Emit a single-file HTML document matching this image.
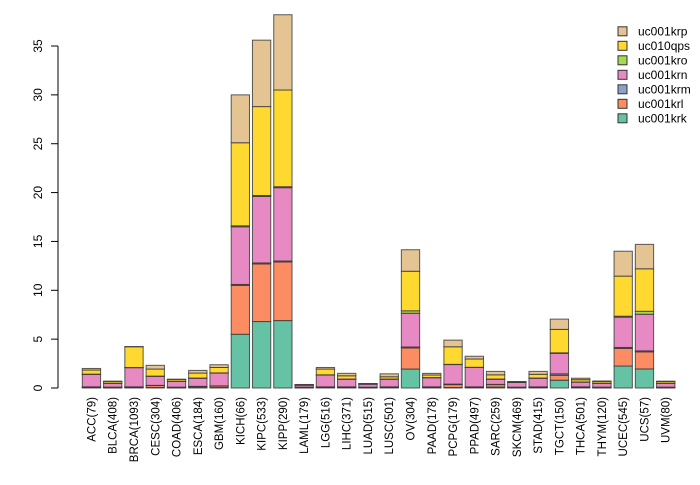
<!DOCTYPE html>
<html><head><meta charset="utf-8"><style>
body{margin:0;background:#fff}
svg{font-family:"Liberation Sans",sans-serif}
</style></head><body>
<svg id="c" width="700" height="480"></svg>
<script>
const categories=["ACC(79)","BLCA(408)","BRCA(1093)","CESC(304)","COAD(406)","ESCA(184)","GBM(160)","KICH(66)","KIPC(533)","KIPP(290)","LAML(179)","LGG(516)","LIHC(371)","LUAD(515)","LUSC(501)","OV(304)","PAAD(178)","PCPG(179)","PPAD(497)","SARC(259)","SKCM(469)","STAD(415)","TGCT(150)","THCA(501)","THYM(120)","UCEC(545)","UCS(57)","UVM(80)"];
const seriesNames=["uc001krk","uc001krl","uc001krm","uc001krn","uc001kro","uc010qps","uc001krp"];
const krk=[0.05,0.02,0.05,0.05,0.02,0.05,0.05,5.5,6.8,6.9,0.02,0.05,0.05,0.02,0.05,1.94,0.05,0.05,0.05,0.1,0.02,0.05,0.8,0.05,0.02,2.25,1.95,0.02];
const krl=[0.05,0.05,0.05,0.2,0.05,0.1,0.15,5.0,5.9,6.0,0.05,0.05,0.05,0.05,0.05,2.16,0.05,0.3,0.05,0.25,0.05,0.05,0.5,0.05,0.05,1.8,1.75,0.05];
const krm=[0.02,0.02,0.02,0.02,0.02,0.02,0.02,0.1,0.1,0.1,0.02,0.02,0.02,0.02,0.02,0.1,0.02,0.05,0.02,0.02,0.02,0.02,0.15,0.02,0.02,0.1,0.1,0.02];
const krn=[1.28,0.39,1.96,0.93,0.59,0.83,1.31,5.9,6.8,7.5,0.2,1.21,0.78,0.3,0.78,3.45,0.93,2.0,1.98,0.53,0.48,0.88,2.1,0.48,0.39,3.1,3.75,0.39];
const kro=[0.02,0.02,0.02,0.02,0.02,0.02,0.02,0.1,0.1,0.1,0.02,0.02,0.02,0.02,0.02,0.25,0.02,0.02,0.02,0.02,0.02,0.02,0.05,0.02,0.02,0.1,0.3,0.02];
const qps=[0.42,0.18,2.12,0.72,0.18,0.51,0.55,8.5,9.1,9.9,0.03,0.59,0.33,0.03,0.23,4.05,0.26,1.8,0.85,0.43,0.05,0.38,2.4,0.23,0.17,4.1,4.35,0.17];
const krp=[0.16,0.02,0.02,0.38,0.02,0.27,0.28,4.9,6.8,7.7,0.02,0.16,0.25,0.02,0.3,2.2,0.17,0.68,0.28,0.35,0.02,0.3,1.05,0.15,0.05,2.55,2.5,0.03];
const series=[krk,krl,krm,krn,kro,qps,krp];
const colors=["#66c2a5","#fc8d62","#8da0cb","#e78ac3","#a6d854","#ffd92f","#e5c494"];
const yTicks=[0,5,10,15,20,25,30,35];
const NS="http://www.w3.org/2000/svg",svg=document.getElementById("c");
const y0=388,pxu=9.771;
function y(v){return y0-v*pxu;}
function xb(i){return 82.3+i*21.27;}
const bw=18.3;
function mk(t,a,p){const e=document.createElementNS(NS,t);for(const k in a)e.setAttribute(k,a[k]);(p||svg).appendChild(e);return e;}
// axis
const ax=mk("line",{x1:58,x2:58,y1:y(0),y2:y(35),stroke:"#000","stroke-width":1});


yTicks.forEach(t=>{
  const tk=mk("line",{x1:51,x2:58,y1:y(t),y2:y(t),stroke:"#000"});
  
  
  const tx=mk("text",{x:0,y:0,"font-size":12,"text-anchor":"middle",transform:`translate(42,${y(t)}) rotate(-90)`});
  tx.textContent=t;
  
  
});
categories.forEach((c,i)=>{
  let acc=0;
  series.forEach((s,j)=>{
    const v=s[i];
    const r=mk("rect",{x:xb(i),y:y(acc+v),width:bw,height:v*pxu,fill:colors[j],stroke:"#333","stroke-opacity":0.8,"stroke-width":1});
    
    
    acc+=v;
  });
  const cx=xb(i)+bw/2;
  const l=mk("text",{x:0,y:0,"font-size":11.5,"text-anchor":"end",transform:`translate(${cx+4},397) rotate(-90)`});
  l.textContent=c;
  
  
});
const lg=mk("g",{});


for(let k=6;k>=0;k--){
  const idx=6-k, yy=31.3+idx*14.5;
  const b=mk("rect",{x:618,y:yy-4.5,width:9,height:9,fill:colors[k],stroke:"#333"},lg);
  
  
  const t=mk("text",{x:638,y:yy+4.3,"font-size":12},lg);
  t.textContent=seriesNames[k];
  
  
}
</script>
</body></html>
